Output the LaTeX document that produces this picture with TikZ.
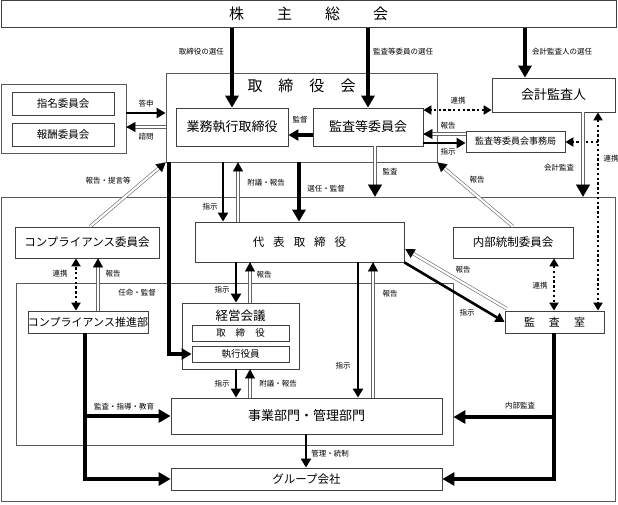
\documentclass[tikz,border=0pt]{standalone}
\usepackage{fontspec}
\setmainfont{Noto Sans CJK JP}
\usetikzlibrary{arrows.meta,calc}

\tikzset{
  box/.style={draw=black!75, line width=0.8pt, fill=white, inner sep=0pt, align=center},
  frame/.style={draw=black!65, line width=0.8pt, inner sep=0pt},
  lbl/.style={font=\fontsize{7.5}{8}\selectfont, inner sep=0pt},
  huge/.style={font=\fontsize{15}{17}\selectfont},
  mid/.style={font=\fontsize{13}{15}\selectfont},
  sml/.style={font=\fontsize{11.5}{13}\selectfont},
  tny/.style={font=\fontsize{9.5}{11}\selectfont},
  blkarr/.style={line width=2.6pt, -{Triangle[length=9pt,width=10pt]}},
  thkarr/.style={line width=4.2pt, -{Triangle[length=12pt,width=13pt]}},
  dblshaft/.style={draw=black!60, line width=0.6pt, double=white, double distance=2.2pt},
  dotarr/.style={line width=2.4pt, dash pattern=on 2.4pt off 2.4pt,
    {Triangle[length=8pt,width=9pt]}-{Triangle[length=8pt,width=9pt]}},
  dotarrone/.style={line width=2.4pt, dash pattern=on 2.4pt off 2.4pt,
    -{Triangle[length=8pt,width=9pt]}},
}
% double shaft with a solid head: length, width, from, to
\newcommand{\dblarrow}[4]{%
  \draw[dblshaft, shorten >=#1pt-1pt] (#3) -- (#4);
  \draw[line width=0.1pt, -{Triangle[length=#1pt,width=#2pt]}] ($(#4)!1pt!(#3)$) -- (#4);
}

\begin{document}
\begin{tikzpicture}[x=1pt, y=-1pt]
\useasboundingbox (0,0) rectangle (618,504);

% frames
\node[frame, minimum width=614pt, minimum height=304pt] (company) at (308,349) {};
\node[frame, minimum width=437pt, minimum height=162pt] (ninmei) at (234.5,364) {};
\node[frame, minimum width=271pt, minimum height=89pt] (board) at (301.5,117.5) {};
\node[frame, minimum width=125pt, minimum height=69pt] (iinkai) at (63.5,118.5) {};

% boxes
\node[box, huge, minimum width=615pt, minimum height=27pt] (kabu) at (308.5,14)
  {株\hspace{33pt}主\hspace{33pt}総\hspace{33pt}会};
\node[huge, inner sep=0pt] (boardtitle) at (301.5,86)
  {取\hspace{16pt}締\hspace{16pt}役\hspace{16pt}会};
\node[box, mid, minimum width=112pt, minimum height=38pt] (gyomu) at (232,127) {業務執行取締役};
\node[box, mid, minimum width=110pt, minimum height=38pt] (kansaiin) at (368,127) {監査等委員会};
\node[box, mid, minimum width=123pt, minimum height=34pt] (kaikei) at (553.5,95) {会計監査人};
\node[box, font=\fontsize{9}{10}\selectfont, minimum width=99pt, minimum height=21pt] (jimu) at (515.5,141.5) {監査等委員会事務局};
\node[box, font=\fontsize{10.5}{12}\selectfont, minimum width=102pt, minimum height=23pt] (shimei) at (63,103.5) {指名委員会};
\node[box, font=\fontsize{10.5}{12}\selectfont, minimum width=102pt, minimum height=23pt] (hoshu) at (63,134.5) {報酬委員会};

\node[box, sml, minimum width=144pt, minimum height=31pt] (compiin) at (87,242.5) {コンプライアンス委員会};
\node[box, font=\fontsize{11.5}{13}\selectfont, minimum width=209pt, minimum height=40pt] (daihyo) at (299.5,242)
  {代\hspace{9pt}表\hspace{9pt}取\hspace{9pt}締\hspace{9pt}役};
\node[box, sml, minimum width=120pt, minimum height=31pt] (naibu) at (513,242.5) {内部統制委員会};
\node[box, font=\fontsize{11}{12}\selectfont, minimum width=120pt, minimum height=22pt] (suishin) at (88,322) {コンプライアンス推進部};
\node[box, font=\fontsize{11}{12}\selectfont, minimum width=99pt, minimum height=22pt] (kansashitsu) at (554.5,322)
  {監\hspace{14pt}査\hspace{14pt}室};
\node[box, minimum width=117pt, minimum height=66pt] (keiei) at (240.5,336) {};
\node[font=\fontsize{12.5}{14}\selectfont, inner sep=0pt] (keieititle) at (240.5,316) {経営会議};
\node[box, tny, minimum width=97pt, minimum height=16pt] (keieitori) at (240.5,333)
  {取\hspace{10pt}締\hspace{10pt}役};
\node[box, tny, minimum width=97pt, minimum height=16pt] (shikko) at (240.5,354) {執行役員};
\node[box, mid, minimum width=271pt, minimum height=36pt] (jigyo) at (306.5,416) {事業部門・管理部門};
\node[box, sml, minimum width=271pt, minimum height=22pt] (group) at (306.5,479) {グループ会社};

% shareholders
\draw[thkarr] (gyomu.north |- kabu.south) -- (gyomu.north);
\draw[thkarr] (kansaiin.north |- kabu.south) -- (kansaiin.north);
\draw[thkarr] (kabu.south -| 525,0) -- (kaikei.north -| 525,0);
\node[lbl, anchor=east] (l1) at (224,52) {取締役の選任};
\node[lbl, anchor=west] (l2) at (373,52) {監査等委員の選任};
\node[lbl, anchor=west] (l3) at (532,52) {会計監査人の選任};

% board
\draw[blkarr] (iinkai.east |- 0,113) -- (board.west |- 0,113);
\dblarrow{9}{10}{board.west |- 0,127}{iinkai.east |- 0,127}
\node[lbl] (l4) at (146,104) {答申};
\node[lbl] (l5) at (146,137) {諮問};
\draw[line width=3.4pt, -{Triangle[length=10pt,width=11pt]}] (kansaiin.west |- 0,135) -- (gyomu.east |- 0,135);
\node[lbl] (l6) at (300,120) {監督};
\draw[dotarr] (kaikei.west |- 0,110) -- (kansaiin.east |- 0,110);
\node[lbl] (l7) at (458,101) {連携};
\dblarrow{9}{10}{jimu.west |- 0,134}{kansaiin.east |- 0,134}
\draw[blkarr] (kansaiin.east |- 0,143) -- (jimu.west |- 0,143);
\node[lbl] (l8) at (448,126) {報告};
\node[lbl] (l9) at (448,152) {指示};
\draw[dotarrone] (598,142) -- (jimu.east |- 0,142);
\draw[dotarr] (kaikei.south -| 598,0) -- (kansashitsu.north -| 598,0);
\node[lbl] (l10) at (611,159) {連携};
\dblarrow{12}{14}{kaikei.south -| 583,0}{company.north -| 583,0}
\node[lbl] (l11) at (559,168) {会計監査};
\dblarrow{12}{14}{kansaiin.south -| 375,0}{company.north -| 375,0}
\node[lbl] (l12) at (390,172) {監査};

% board to company
\dblarrow{9}{10}{compiin.north -| 90,0}{board.south west}
\node[lbl] (l13) at (108,181) {報告・提言等};
\draw[line width=3.4pt, -{Triangle[length=10pt,width=11pt]}] (board.south -| 169,0) |- (shikko.west);
\draw[blkarr] (board.south -| 223,0) -- (daihyo.north -| 223,0);
\dblarrow{9}{10}{daihyo.north -| 238,0}{board.south -| 238,0}
\draw[line width=4pt, -{Triangle[length=12pt,width=13pt]}] (board.south -| 299,0) -- (daihyo.north -| 299,0);
\node[lbl] (l14) at (210,207) {指示};
\node[lbl] (l15) at (266,183) {附議・報告};
\node[lbl] (l16) at (326,189) {選任・監督};
\dblarrow{9}{10}{naibu.north}{board.south east}
\node[lbl] (l17) at (477,180) {報告};

% compliance
\draw[dotarr] (suishin.north -| 76,0) -- (compiin.south -| 76,0);
\dblarrow{9}{10}{suishin.north -| 98,0}{compiin.south -| 98,0}
\node[lbl] (l18) at (60,274) {連携};
\node[lbl] (l19) at (113,274) {報告};
\node[lbl] (l20) at (137,293) {任命・監督};

% president
\draw[blkarr] (daihyo.south -| 236,0) -- (keiei.north -| 236,0);
\dblarrow{9}{10}{keiei.north -| 250,0}{daihyo.south -| 250,0}
\node[lbl] (l21) at (222,290) {指示};
\node[lbl] (l22) at (264,275) {報告};
\draw[blkarr] (keiei.south -| 236,0) -- (jigyo.north -| 236,0);
\dblarrow{9}{10}{jigyo.north -| 250,0}{keiei.south -| 250,0}
\node[lbl] (l23) at (222,384) {指示};
\node[lbl] (l24) at (278,384) {附議・報告};
\draw[blkarr] (daihyo.south -| 358,0) -- (jigyo.north -| 358,0);
\dblarrow{9}{10}{jigyo.north -| 373,0}{daihyo.south -| 373,0}
\node[lbl] (l25) at (343,366) {指示};
\node[lbl] (l26) at (390,294) {報告};

% audit office
\draw[dotarr] (naibu.south -| 554,0) -- (kansashitsu.north -| 554,0);
\node[lbl] (l27) at (540,286) {連携};
\coordinate (ksfrom) at ($(kansashitsu.north west)+(2,-2)$);
\coordinate (dhto) at ($(daihyo.east)+(1,7)$);
\dblarrow{9}{10}{ksfrom}{dhto}
\draw[blkarr] (daihyo.south east) -- (kansashitsu.west);
\node[lbl] (l28) at (463,270) {報告};
\node[lbl] (l29) at (467,313) {指示};

% lower lines
\draw[line width=4pt, -{Triangle[length=12pt,width=13pt]}] (suishin.south -| 85,0) |- (group.west);
\draw[line width=4pt, -{Triangle[length=12pt,width=13pt]}] (85,416) -- (jigyo.west);
\node[lbl] (l30) at (124,407) {監査・指導・教育};
\draw[line width=4pt, -{Triangle[length=12pt,width=13pt]}] (kansashitsu.south -| 554,0) |- (group.east);
\draw[line width=4pt, -{Triangle[length=12pt,width=13pt]}] (554,417) -- (ninmei.east |- 0,417);
\node[lbl] (l31) at (520,406) {内部監査};
\draw[blkarr] (jigyo.south -| 306,0) -- (group.north -| 306,0);
\node[lbl] (l32) at (330,454) {管理・統制};

\end{tikzpicture}
\end{document}
